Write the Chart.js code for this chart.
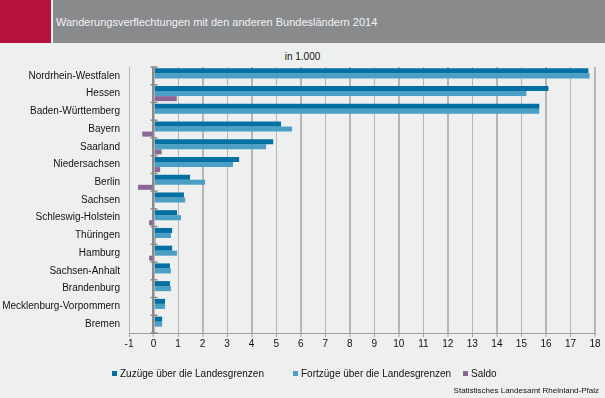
<!DOCTYPE html>
<html><head><meta charset="utf-8">
<script src="https://cdn.jsdelivr.net/npm/chart.js@4"></script>
<style>
html,body{margin:0;padding:0;}
body{width:605px;height:398px;background:#eef0ef;position:relative;overflow:hidden;font-family:"Liberation Sans",Arial,sans-serif;}
#red{position:absolute;left:0;top:0;width:51px;height:43px;background:#b5123d;}
#bar{position:absolute;left:53px;top:0;width:552px;height:43px;background:#898a8b;}
#title{position:absolute;left:56px;top:16px;color:#f2f2f6;font-size:11px;white-space:nowrap;}
#unit{position:absolute;left:0;width:605px;top:51px;text-align:center;font-size:10px;color:#111;}
#src{position:absolute;right:6px;top:386px;font-size:8px;color:#111;}
#wrap{position:absolute;left:0;top:0;width:605px;height:398px;}
.lg{position:absolute;top:368px;font-size:10px;color:#111;white-space:nowrap;}
.lg span{display:inline-block;width:5px;height:5px;margin-right:3px;vertical-align:1px;}
</style></head>
<body>
<div id="red"></div><div id="bar"></div>
<div id="title">Wanderungsverflechtungen mit den anderen Bundesländern 2014</div>
<div id="unit">in 1.000</div>
<div id="wrap"><canvas id="c" width="605" height="398"></canvas></div>
<div id="legend"></div>
<div id="src">Statistisches Landesamt Rheinland-Pfalz</div>
<script>
const categories = ["Nordrhein-Westfalen","Hessen","Baden-Württemberg","Bayern","Saarland","Niedersachsen","Berlin","Sachsen","Schleswig-Holstein","Thüringen","Hamburg","Sachsen-Anhalt","Brandenburg","Mecklenburg-Vorpommern","Bremen"];
const zuzuege = [17.73,16.10,15.73,5.20,4.88,3.49,1.49,1.24,0.96,0.76,0.76,0.67,0.67,0.47,0.35];
const fortzuege = [17.78,15.20,15.73,5.65,4.59,3.24,2.10,1.29,1.12,0.71,0.96,0.71,0.71,0.47,0.35];
const saldo = [-0.05,0.95,0.0,-0.46,0.33,0.27,-0.63,-0.05,-0.18,0.08,-0.18,-0.03,-0.05,0.0,0.0];
const seriesNames = ["Zuzüge über die Landesgrenzen","Fortzüge über die Landesgrenzen","Saldo"];
const colors = ["#0070a3","#4b9fc4","#8c6694"];
const xMin = -1, xMax = 18;

const zeroTicks = {
  id:'zeroTicks',
  afterDatasetsDraw(chart){
    const ctx = chart.ctx, x = chart.scales.x, y = chart.scales.y;
    const x0 = x.getPixelForValue(0);
    ctx.save();
    ctx.strokeStyle = '#8a8a8a'; ctx.lineWidth = 1.5;
    for(let i=0;i<=categories.length;i++){
      const py = (i===0)? y.top : (i===categories.length ? y.bottom : (y.getPixelForValue(i-1)+y.getPixelForValue(i))/2);
      ctx.beginPath(); ctx.moveTo(x0-3,py); ctx.lineTo(x0+4,py); ctx.stroke();
    }
    ctx.restore();
  }
};

const chart = new Chart(document.getElementById('c'), {
  type:'bar',
  data:{
    labels:categories,
    datasets:[
      {label:seriesNames[0],data:zuzuege,backgroundColor:colors[0]},
      {label:seriesNames[1],data:fortzuege,backgroundColor:colors[1]},
      {label:seriesNames[2],data:saldo,backgroundColor:colors[2]}
    ]
  },
  options:{
    indexAxis:'y',
    responsive:false,
    animation:false,
    devicePixelRatio:1,
    datasets:{bar:{categoryPercentage:0.85,barPercentage:1.0}},
    layout:{padding:{top:67,bottom:43,left:0,right:10}},
    plugins:{legend:{display:false},tooltip:{enabled:false},title:{display:false}},
    scales:{
      x:{
        min:xMin,max:xMax,
        afterFit(s){s.height=22;},
        ticks:{stepSize:1,color:'#111',font:{family:'"Liberation Sans", Arial, sans-serif',size:10},padding:1,maxRotation:0,autoSkip:false},
        grid:{
          color(c){return c.tick && c.tick.value===0 ? '#8a8a8a' : '#b6b6b6';},
          lineWidth(c){ if(!c.tick) return 1; const v=c.tick.value; return v===0?2.5:(v%2===0?2:1);},
          tickLength:4,
          drawTicks:true,
          tickColor:'#a0a0a0',
          tickWidth:1
        },
        border:{display:true,color:'#a0a0a0',width:1}
      },
      y:{
        afterFit(s){s.width=129;},
        ticks:{color:'#111',font:{family:'"Liberation Sans", Arial, sans-serif',size:10},padding:9,autoSkip:false},
        grid:{display:false,drawTicks:false},
        border:{display:false}
      }
    }
  },
  plugins:[zeroTicks]
});

const lgPos = [112,293,463];
const lg = document.getElementById('legend');
chart.data.datasets.forEach((d,i)=>{
  const el=document.createElement('div');
  el.className='lg'; el.style.left=lgPos[i]+'px';
  el.innerHTML='<span style="background:'+d.backgroundColor+'"></span>'+d.label;
  lg.appendChild(el);
});
</script>
</body></html>
